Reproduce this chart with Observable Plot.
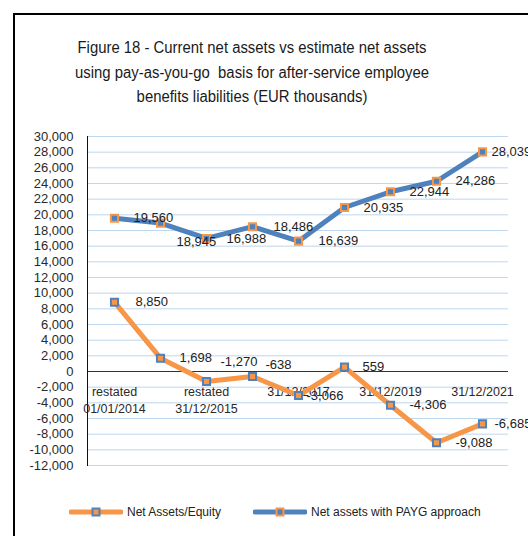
<!DOCTYPE html>
<html><head><meta charset="utf-8">
<script src="https://cdn.jsdelivr.net/npm/d3@7"></script>
<script src="https://cdn.jsdelivr.net/npm/@observablehq/plot@0.6"></script>
<style>
body{margin:0;background:#fff;font-family:"Liberation Sans",Arial,sans-serif;width:528px;height:536px;overflow:hidden;position:relative;}
#frame{position:absolute;left:13px;top:13px;width:540px;height:540px;border-left:2px solid #000;border-top:2px solid #000;box-sizing:border-box;}
#title{position:absolute;left:0;top:36px;width:504px;text-align:center;font-size:16px;line-height:24.5px;color:#1a1a1a;transform:scaleX(0.93);transform-origin:252px 0;}
#chart{position:absolute;left:0;top:120px;}
#legend{position:absolute;left:0;top:503px;width:528px;height:18px;font-size:12px;color:#222;}
.item{position:absolute;top:0;display:flex;align-items:center;height:18px;}
.item svg{margin-right:4px;}
</style>
</head><body>
<div id="frame"></div>
<div id="title">Figure 18 - Current net assets vs estimate net assets<br>using pay-as-you-go&nbsp; basis for after-service employee<br>benefits liabilities (EUR thousands)</div>
<div id="chart"></div>
<div id="legend"></div>
<script>
const categories = ["restated\n01/01/2014", "restated\n31/12/2014", "restated\n31/12/2015", "31/12/2016", "31/12/2017", "31/12/2018", "31/12/2019", "31/12/2020", "31/12/2021"];
const shownCategories = ["restated\n01/01/2014", "restated\n31/12/2015", "31/12/2017", "31/12/2019", "31/12/2021"];
const netAssets = [8850, 1698, -1270, -638, -3066, 559, -4306, -9088, -6685];
const paygAssets = [19560, 18945, 16988, 18486, 16639, 20935, 22944, 24286, 28039];
const yTicks = [-12000, -10000, -8000, -6000, -4000, -2000, 0, 2000, 4000, 6000, 8000, 10000, 12000, 14000, 16000, 18000, 20000, 22000, 24000, 26000, 28000, 30000];
const seriesNames = ["Net Assets/Equity", "Net assets with PAYG approach"];

// label placement nudges (pixels), as in the source chart's manually placed data labels
const netLabelDx = [21, 19, 14, 13, 8, 18, 19, 19, 12];
const netLabelDy = [0, 0, -20, -12, 0, 0, 0, 0, 0];
const paygLabelDx = [19, 16, 20, 21, 20, 19, 19, 19, 9];
const paygLabelDy = [0, 19, 0, 0, 0, 0, 0, 0, 0];

const ORANGE = "#F79646", BLUE = "#4F81BD";
const fmt = d => d.toLocaleString("en-US");
const rows = categories.map((c, i) => ({cat: c, net: netAssets[i], payg: paygAssets[i], i}));

const labels = (key, dxs, dys) => rows.map(r => Plot.text([r], {
  x: "cat", y: key, text: d => fmt(d[key]), textAnchor: "start",
  dx: dxs[r.i], dy: dys[r.i], fill: "#222", fontSize: 13
}));

const chart = Plot.plot({
  width: 528, height: 360,
  marginTop: 16, marginBottom: 15, marginLeft: 87, marginRight: 20,
  style: {fontFamily: "'Liberation Sans', Arial, sans-serif", fontSize: "12.5px", color: "#333", background: "transparent", overflow: "visible"},
  x: {type: "point", domain: categories, padding: 0.5, axis: null},
  y: {domain: [-12000, 30000], nice: false, label: null},
  marks: [
    Plot.ruleY(yTicks.filter(d => d !== 0), {stroke: "#BDD7EE", strokeWidth: 1}),
    Plot.ruleY([0], {stroke: "#333", strokeWidth: 1}),
    Plot.frame({anchor: "left", stroke: "#111"}),
    Plot.axisY(yTicks, {tickSize: 0, tickPadding: 14, tickFormat: fmt, label: null, fill: "#2a2a2a", fontSize: 13}),
    Plot.text(shownCategories, {x: d => d, y: () => 0, text: d => d, lineAnchor: "top", dy: 13, lineHeight: 1.35, fill: "#2a2a2a", fontSize: 12.5}),
    Plot.lineY(rows, {x: "cat", y: "payg", stroke: BLUE, strokeWidth: 5, strokeLinejoin: "round"}),
    Plot.lineY(rows, {x: "cat", y: "net", stroke: ORANGE, strokeWidth: 5, strokeLinejoin: "round"}),
    Plot.dot(rows, {x: "cat", y: "payg", symbol: "square", r: 4, fill: BLUE, stroke: ORANGE, strokeWidth: 2}),
    Plot.dot(rows, {x: "cat", y: "net", symbol: "square", r: 4, fill: ORANGE, stroke: BLUE, strokeWidth: 2}),
    ...labels("payg", paygLabelDx, paygLabelDy),
    ...labels("net", netLabelDx, netLabelDy)
  ]
});
document.getElementById("chart").appendChild(chart);

// legend
const legend = document.getElementById("legend");
const items = [
  {name: seriesNames[0], line: ORANGE, fill: ORANGE, edge: BLUE, left: 69},
  {name: seriesNames[1], line: BLUE, fill: BLUE, edge: ORANGE, left: 253}
];
for (const it of items) {
  const div = document.createElement("div");
  div.className = "item";
  div.style.left = it.left + "px";
  div.innerHTML = `<svg width="54" height="18"><line x1="2" x2="52" y1="9" y2="9" stroke="${it.line}" stroke-width="5" stroke-linecap="round"/><rect x="23.5" y="5.5" width="7" height="7" fill="${it.fill}" stroke="${it.edge}" stroke-width="2"/></svg><span>${it.name}</span>`;
  legend.appendChild(div);
}
</script>
</body></html>
